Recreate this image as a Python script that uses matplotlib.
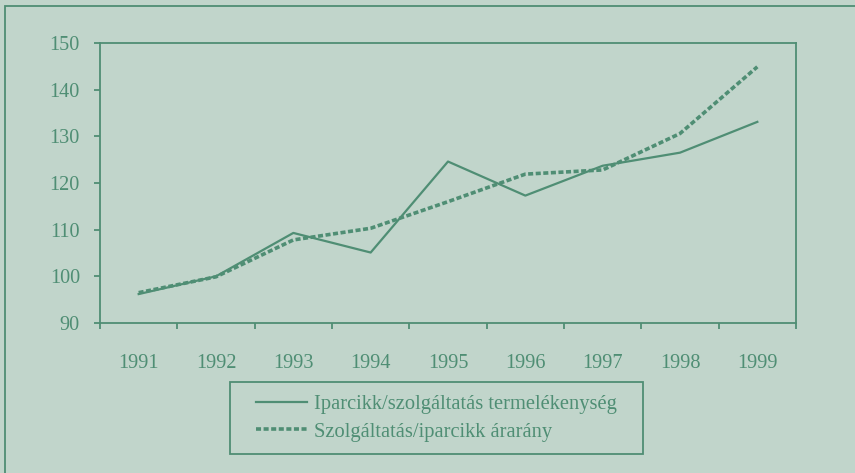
import matplotlib
matplotlib.use("Agg")
import matplotlib.pyplot as plt
from matplotlib.patches import Rectangle

years = ["1991", "1992", "1993", "1994", "1995", "1996", "1997", "1998", "1999"]
productivity = [96.2, 100.0, 109.3, 105.1, 124.6, 117.3, 123.7, 126.5, 133.1]
price_ratio = [96.5, 99.9, 107.8, 110.3, 116.0, 121.9, 122.8, 130.6, 144.9]
label_prod = "Iparcikk/szolgáltatás termelékenység"
label_price = "Szolgáltatás/iparcikk árarány"

BG = "#C1D5CB"
GREEN = "#4F8E74"

plt.rcParams["font.family"] = ["Liberation Serif", "DejaVu Serif"]

fig = plt.figure(figsize=(8.55, 4.73), dpi=100, facecolor=BG)
ax = fig.add_axes([100 / 855, 1 - 323 / 473, 696 / 855, 280 / 473])
ax.set_facecolor(BG)

x = range(len(years))
ax.plot(x, productivity, color=GREEN, lw=1.6, label=label_prod)
ax.plot(x, price_ratio, color=GREEN, lw=2.6, linestyle=(0, (1.4, 0.7)),
        label=label_price)

ax.set_xlim(-0.5, len(years) - 0.5)
ax.set_ylim(90, 150)
ax.set_yticks(range(90, 151, 10))
ax.set_xticks(x)
ax.set_xticklabels(years)
# tick marks sit between categories, like the original
ax.set_xticks([i - 0.5 for i in range(len(years) + 1)], minor=True)
ax.tick_params(axis="x", which="major", length=0, pad=22, labelsize=14.6, labelcolor=GREEN)
ax.tick_params(axis="x", which="minor", length=4.5, width=1.3, color=GREEN, direction="out")
ax.tick_params(axis="y", length=4.5, width=1.3, color=GREEN, pad=10, labelsize=14.6,
               labelcolor=GREEN)
for s in ax.spines.values():
    s.set_color(GREEN)
    s.set_linewidth(1.3)

# outer chart frame (only left and top edges visible)
fig.patches.append(Rectangle((5 / 855, -0.1), 1.2, 1 - 6 / 473 + 0.1, transform=fig.transFigure,
                             fill=False, edgecolor=GREEN, lw=1.3))

# legend box
fig.patches.append(Rectangle((230 / 855, 1 - 454 / 473), 413 / 855, 72 / 473,
                             transform=fig.transFigure, fill=False, edgecolor=GREEN, lw=1.3))
leg = fig.legend(loc="center left", bbox_to_anchor=(256 / 855, 1 - 418 / 473), frameon=False,
                 fontsize=14.8, labelcolor=GREEN, handlelength=2.5, handletextpad=0.3,
                 labelspacing=0.4, borderpad=0, borderaxespad=0)

fig.savefig("out.png", dpi=100, facecolor=BG)
